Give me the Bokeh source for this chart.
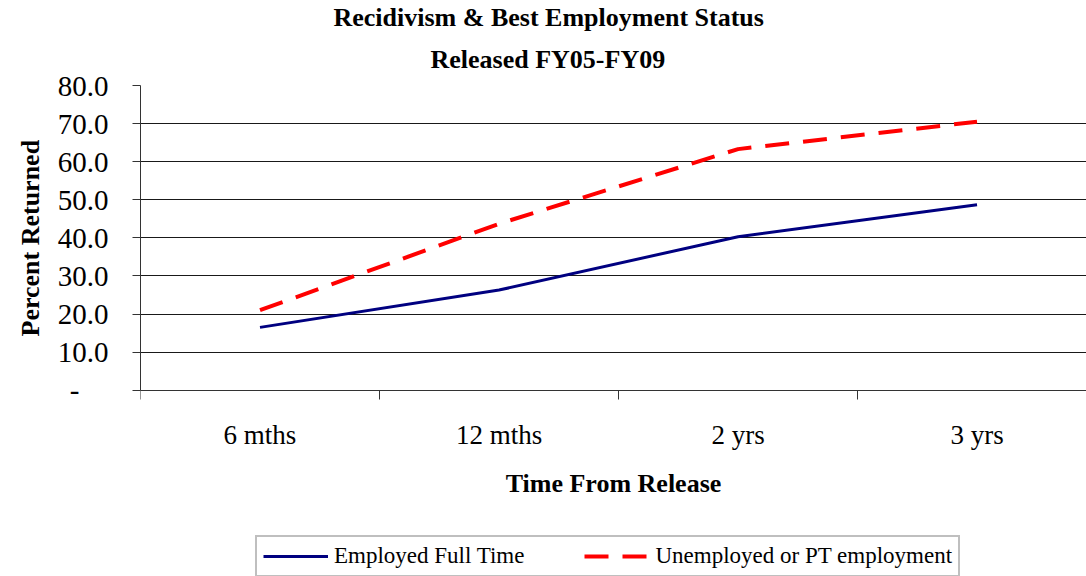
from bokeh.plotting import figure
from bokeh.models import Range1d, FixedTicker, NumeralTickFormatter, Legend, LegendItem, Title
from bokeh.embed import file_html
from bokeh.resources import INLINE

# ---- data ----
categories = ["6 mths", "12 mths", "2 yrs", "3 yrs"]
employed_full_time = [16.5, 26.3, 40.3, 48.7]
unemployed_or_pt = [21.0, 43.7, 63.3, 70.5]
y_ticks = [0, 10, 20, 30, 40, 50, 60, 70, 80]
series_names = ["Employed Full Time", "Unemployed or PT employment"]
title_line1 = "Recidivism & Best Employment Status"
title_line2 = "Released FY05-FY09"
x_title = "Time From Release"
y_title = "Percent Returned"

FONT = "Liberation Serif"
xs = [i + 0.5 for i in range(len(categories))]
bounds = [float(i) for i in range(len(categories) + 1)]

# the frame runs down to the bottom of the page; the x axis sits at y = 0
p = figure(width=1086, height=576, output_backend="svg", toolbar_location=None,
           x_range=Range1d(0, 3.958), y_range=Range1d(-48.9, 80),
           min_border_left=140, min_border_top=83, min_border_bottom=0,
           min_border_right=0)
p.outline_line_color = None
p.background_fill_color = "white"
p.border_fill_color = "white"
p.title.visible = False

# titles (first added = closest to the frame)
t2 = Title(text=title_line2, align="left", offset=290, standoff=23,
           text_font=FONT, text_font_size="26px", text_font_style="bold",
           text_color="black")
t1 = Title(text=title_line1, align="left", offset=193, standoff=0,
           text_font=FONT, text_font_size="26px", text_font_style="bold",
           text_color="black")
p.add_layout(t2, "above")
p.add_layout(t1, "above")

# grid
p.xgrid.visible = False
p.ygrid.ticker = FixedTicker(ticks=y_ticks)
p.ygrid.grid_line_color = "black"
p.ygrid.grid_line_alpha = 0.9
p.ygrid.grid_line_width = 1

# x axis, fixed at y = 0
xa = p.xaxis[0]
xa.fixed_location = 0
xa.ticker = FixedTicker(ticks=xs, minor_ticks=bounds)
xa.major_label_overrides = {x: c for x, c in zip(xs, categories)}
xa.major_tick_out = 0
xa.major_tick_in = 0
xa.minor_tick_out = 9
xa.minor_tick_in = 0
xa.minor_tick_line_color = "#333333"
xa.axis_line_color = "#333333"
xa.major_label_text_font = FONT
xa.major_label_text_font_size = "27px"
xa.major_label_text_color = "black"
xa.major_label_standoff = 21
xa.axis_label = x_title
xa.axis_label_text_font = FONT
xa.axis_label_text_font_size = "26px"
xa.axis_label_text_font_style = "bold"
xa.axis_label_text_color = "black"
xa.axis_label_standoff = 15

# y axis
ya = p.yaxis[0]
ya.bounds = (0, 80)
ya.ticker = FixedTicker(ticks=y_ticks)
ya.formatter = NumeralTickFormatter(format="0.0")
ya.major_label_overrides = {0: "-\u00a0\u00a0\u00a0\u00a0"}
ya.major_tick_out = 8
ya.major_tick_in = 0
ya.minor_tick_line_color = None
ya.major_tick_line_color = "#333333"
ya.axis_line_color = "#333333"
ya.major_label_text_font = FONT
ya.major_label_text_font_size = "29px"
ya.major_label_text_color = "black"
ya.major_label_standoff = 24

# y-axis title, centred on the 0-80 span
yt = Title(text=y_title, align="left", offset=240, standoff=20,
           text_font=FONT, text_font_size="26px", text_font_style="bold",
           text_color="black")
p.add_layout(yt, "left")

r1 = p.line(xs, employed_full_time, line_color="#000080", line_width=3)
r2 = p.line(xs, unemployed_or_pt, line_color="#FF0000", line_width=4, line_dash="24 14")

legend = Legend(items=[LegendItem(label=series_names[0], renderers=[r1]),
                       LegendItem(label=series_names[1], renderers=[r2])],
                orientation="horizontal", location=(115, -1))
legend.label_text_font = FONT
legend.label_text_font_size = "23px"
legend.label_text_color = "black"
legend.glyph_width = 65
legend.glyph_height = 20
legend.label_standoff = 6
legend.spacing = 60
legend.padding = 6
legend.margin = 0
legend.border_line_color = "#808080"
legend.border_line_width = 2
legend.background_fill_alpha = 1
p.add_layout(legend, "center")

open("out.html", "w").write(file_html(p, INLINE))
